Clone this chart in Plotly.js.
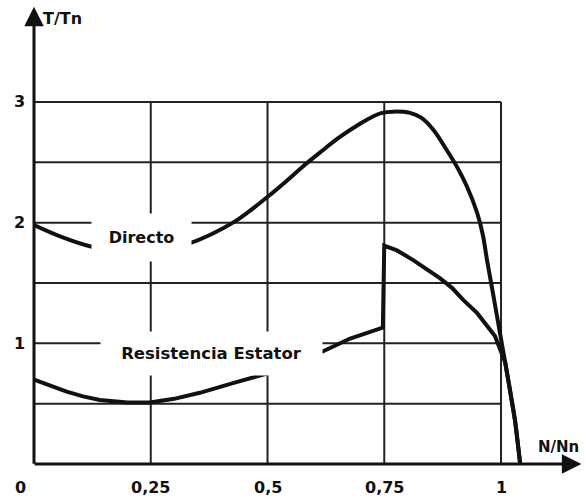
<!DOCTYPE html>
<html>
<head>
<meta charset="utf-8">
<script src="https://cdn.plot.ly/plotly-3.0.1.min.js"></script>
<style>
  html, body { margin: 0; padding: 0; background: #fff; }
  #chart { width: 586px; height: 499px; }
</style>
</head>
<body>
<div id="chart"></div>
<script>
// Torque / speed curves of an induction motor: direct start vs. stator resistance start
const directoX = [0, 0.06, 0.124, 0.18, 0.23, 0.28, 0.334, 0.383, 0.426, 0.456, 0.499, 0.542, 0.574, 0.612, 0.655, 0.698, 0.726, 0.745, 0.769, 0.805, 0.829, 0.855, 0.884, 0.906, 0.927, 0.949, 0.961, 0.970, 0.983, 0.998, 1.009, 1.019, 1.030, 1.041];
const directoY = [1.98, 1.88, 1.80, 1.77, 1.76, 1.78, 1.83, 1.91, 2.00, 2.08, 2.21, 2.35, 2.46, 2.58, 2.71, 2.82, 2.88, 2.91, 2.92, 2.91, 2.87, 2.77, 2.60, 2.46, 2.30, 2.08, 1.90, 1.69, 1.41, 1.08, 0.84, 0.62, 0.36, 0];

const estatorX = [0, 0.035, 0.07, 0.105, 0.141, 0.2, 0.248, 0.3, 0.355, 0.426, 0.499, 0.56, 0.617, 0.677, 0.747, 0.75, 0.777, 0.812, 0.842, 0.869, 0.895, 0.919, 0.949, 0.970, 0.987, 1.009, 1.019, 1.030, 1.041];
const estatorY = [0.70, 0.65, 0.60, 0.56, 0.53, 0.51, 0.51, 0.54, 0.59, 0.67, 0.75, 0.84, 0.93, 1.04, 1.13, 1.81, 1.77, 1.69, 1.61, 1.54, 1.46, 1.36, 1.25, 1.15, 1.06, 0.84, 0.62, 0.36, 0];

// grid and tick labels
const gridX = [0.25, 0.5, 0.75, 1];
const gridY = [0.5, 1, 1.5, 2, 2.5, 3];
const xTickVals = [0, 0.25, 0.5, 0.75, 1];
const xTickText = ['0', '0,25', '0,5', '0,75', '1'];
const yTickVals = [1, 2, 3];
const yTickText = ['1', '2', '3'];

const seriesNames = ['Directo', 'Resistencia Estator'];
const axisNames = ['N/Nn', 'T/Tn'];

const FONT = 'DejaVu Sans, Liberation Sans, Arial, sans-serif';
const INK = '#111';

const gridTop = 3, gridRight = 1;
const shapes = [];
gridX.forEach(v => shapes.push({
  type: 'line', xref: 'x', yref: 'y', x0: v, x1: v, y0: 0, y1: gridTop,
  line: { color: '#222', width: 2 }, layer: 'below'
}));
gridY.forEach(v => shapes.push({
  type: 'line', xref: 'x', yref: 'y', x0: 0, x1: gridRight, y0: v, y1: v,
  line: { color: '#222', width: 2 }, layer: 'below'
}));

const annotations = [];
// axes with arrowheads
annotations.push({
  x: 0, y: 3.79, ax: 0, ay: -0.01, xref: 'x', yref: 'y', axref: 'x', ayref: 'y',
  showarrow: true, arrowhead: 2, arrowsize: 1.3, arrowwidth: 3, arrowcolor: INK, text: ''
});
annotations.push({
  x: 1.172, y: 0, ax: -0.002, ay: 0, xref: 'x', yref: 'y', axref: 'x', ayref: 'y',
  showarrow: true, arrowhead: 2, arrowsize: 1.3, arrowwidth: 3, arrowcolor: INK, text: ''
});
// axis names
annotations.push({
  x: 0, y: 3.79, xref: 'x', yref: 'y', xanchor: 'left', yanchor: 'middle',
  xshift: 7, yshift: -12, showarrow: false, text: axisNames[1],
  font: { family: FONT, size: 16, color: INK, weight: 'bold' }
});
annotations.push({
  x: 1.172, y: 0, xref: 'x', yref: 'y', xanchor: 'right', yanchor: 'middle',
  xshift: 0, yshift: 17, showarrow: false, text: axisNames[0],
  font: { family: FONT, size: 15, color: INK, weight: 'bold' }
});
// tick labels
xTickVals.forEach((v, i) => annotations.push({
  x: v, y: 0, xref: 'x', yref: 'y', xanchor: 'center', yanchor: 'middle',
  xshift: i === 0 ? -14 : 0, yshift: -23, showarrow: false, text: xTickText[i],
  font: { family: FONT, size: 16, color: INK, weight: 'bold' }
}));
yTickVals.forEach((v, i) => annotations.push({
  x: 0, y: v, xref: 'x', yref: 'y', xanchor: 'center', yanchor: 'middle',
  xshift: -15, yshift: 0, showarrow: false, text: yTickText[i],
  font: { family: FONT, size: 16, color: INK, weight: 'bold' }
}));
// series labels on white boxes
annotations.push({
  x: 0.230, y: 1.877, xref: 'x', yref: 'y', showarrow: false,
  text: seriesNames[0], width: 97, height: 45, bgcolor: '#fff',
  font: { family: FONT, size: 16, color: INK, weight: 'bold' }
});
annotations.push({
  x: 0.381, y: 0.916, xref: 'x', yref: 'y', showarrow: false,
  text: seriesNames[1], width: 219, height: 41, bgcolor: '#fff',
  font: { family: FONT, size: 16.5, color: INK, weight: 'bold' }
});

const traces = [
  { x: directoX, y: directoY, name: seriesNames[0], mode: 'lines', type: 'scatter',
    line: { color: INK, width: 4, shape: 'spline', smoothing: 1 }, hoverinfo: 'skip' },
  { x: estatorX, y: estatorY, name: seriesNames[1], mode: 'lines', type: 'scatter',
    line: { color: INK, width: 4 }, hoverinfo: 'skip' }
];

const layout = {
  width: 586, height: 499,
  margin: { l: 34, r: 4, t: 4, b: 35 },
  paper_bgcolor: '#fff', plot_bgcolor: '#fff',
  showlegend: false,
  xaxis: { range: [0, 1.1734], showgrid: false, zeroline: false, showline: false,
           showticklabels: false, ticks: '', fixedrange: true },
  yaxis: { range: [0, 3.812], showgrid: false, zeroline: false, showline: false,
           showticklabels: false, ticks: '', fixedrange: true },
  shapes: shapes,
  annotations: annotations
};

Plotly.newPlot('chart', traces, layout, { staticPlot: true, displayModeBar: false });
</script>
</body>
</html>
